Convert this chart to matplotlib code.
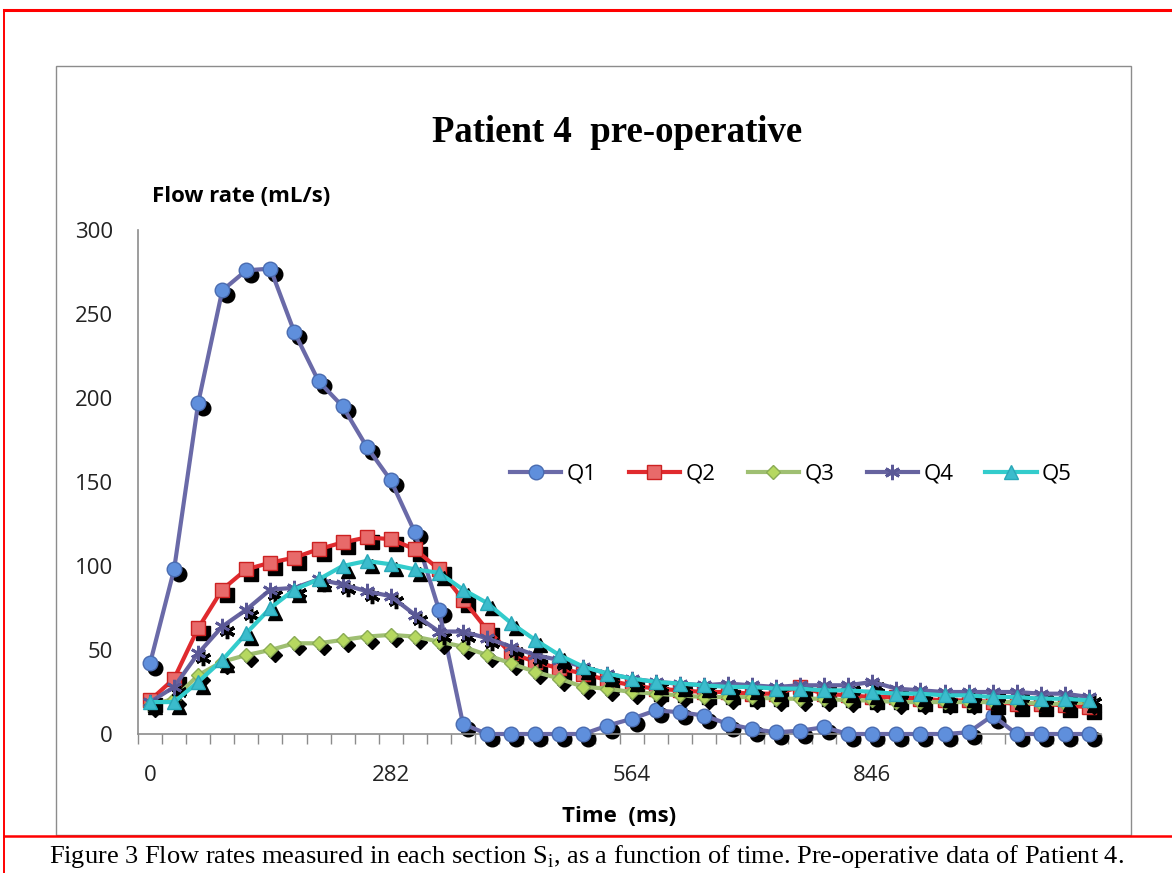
import matplotlib.pyplot as plt
from matplotlib.lines import Line2D
from matplotlib.patches import Rectangle
import matplotlib.transforms as mtransforms

# Zaman ekseni (ms) - 40 örnek
time_ms = [0, 28.2, 56.4, 84.6, 112.8, 141, 169.2, 197.4, 225.6, 253.8,
           282, 310.2, 338.4, 366.6, 394.8, 423, 451.2, 479.4, 507.6, 535.8,
           564, 592.2, 620.4, 648.6, 676.8, 705, 733.2, 761.4, 789.6, 817.8,
           846, 874.2, 902.4, 930.6, 958.8, 987, 1015.2, 1043.4, 1071.6, 1099.8]
tick_times = [0, 282, 564, 846]
tick_labels = ["0", "282", "564", "846"]

# Debiler (mL/s)
q1 = [42, 98, 197, 264, 276, 277, 239, 210, 195, 171,
      151, 120, 74, 6, 0, 0, 0, 0, 0, 5,
      9, 14, 13, 11, 6, 3, 1, 2, 4, 0,
      0, 0, 0, 0, 1, 11, 0, 0, 0, 0]
q2 = [20, 33, 63, 86, 98, 102, 105, 110, 114, 117,
      116, 110, 98, 80, 62, 48, 43, 39, 36, 32,
      29, 27, 26, 25, 25, 24, 24, 28, 24, 23,
      22, 22, 21, 20, 20, 19, 18, 18, 17, 16]
q3 = [17, 21, 35, 43, 47, 50, 54, 54, 56, 58,
      59, 58, 55, 52, 47, 42, 37, 33, 28, 27,
      25, 24, 23, 22, 22, 22, 21, 21, 21, 20,
      20, 19, 19, 19, 19, 19, 19, 18, 18, 19]
q4 = [19, 28, 48, 64, 74, 86, 87, 92, 89, 85,
      82, 71, 61, 61, 57, 52, 47, 44, 40, 36,
      33, 31, 30, 29, 30, 29, 28, 29, 29, 29,
      31, 27, 26, 25, 25, 25, 25, 24, 24, 22]
q5 = [19, 19, 31, 44, 60, 75, 86, 92, 100, 103,
      101, 98, 96, 86, 78, 66, 56, 47, 40, 36,
      33, 31, 30, 29, 28, 28, 27, 27, 26, 26,
      25, 24, 24, 23, 23, 22, 22, 21, 21, 20]

W, H = 1172, 873
fig = plt.figure(figsize=(W / 100, H / 100), dpi=100)


def fx(x):
    return x / W


def fy(y):
    return 1 - y / H


# kırmızı çerçeve ve gri grafik kutusu
fig.add_artist(Line2D([fx(4), 1], [fy(10), fy(10)], color="red", lw=2.2))
fig.add_artist(Line2D([fx(4), fx(4)], [fy(10), 0], color="red", lw=1.4))
fig.add_artist(Line2D([fx(4), 1], [fy(836), fy(836)], color="red", lw=1.8))
fig.add_artist(Rectangle((fx(56), fy(835)), fx(1131) - fx(56), fy(66) - fy(835),
                         fill=False, ec="#8c8c8c", lw=1.0))

ax = fig.add_axes([fx(138), fy(734), fx(1101) - fx(138), fy(230) - fy(734)])

series = [
    ("Q1", q1, "#6a6aa8", "o", "#5f8fdc", "#4a6cb0", 10.5),
    ("Q2", q2, "#e02a2e", "s", "#e86a6a", "#cc2222", 10),
    ("Q3", q3, "#9fbf72", "D", "#b6d860", "#8aab55", 7),
    ("Q4", q4, "#66639f", (6, 2, 0), "#5a5896", "#5a5896", 11),
    ("Q5", q5, "#33cccc", "^", "#3bbccc", "#2aa8b8", 10.5),
]

shadow = mtransforms.ScaledTranslation(5 / 100, -5 / 100, fig.dpi_scale_trans)
handles = []
for i, (name, vals, lc, mk, mf, me, ms) in enumerate(series):
    ax.plot(time_ms, vals, ls="none", marker=mk, ms=ms, color="black",
            mfc="black", mec="black", mew=2.5 if mk == (6, 2, 0) else 1,
            transform=ax.transData + shadow, zorder=2 + 2 * i, clip_on=False)
    h, = ax.plot(time_ms, vals, color=lc, lw=3, marker=mk, ms=ms, mfc=mf,
                 mec=me, mew=2 if mk == (6, 2, 0) else 1, zorder=3 + 2 * i,
                 clip_on=False, label=name)
    handles.append(h)

ax.set_xlim(time_ms[0] - 14.1, time_ms[-1] + 14.1)
ax.set_ylim(0, 300)
ax.set_yticks([0, 50, 100, 150, 200, 250, 300])
ax.tick_params(axis="y", length=0, pad=18, labelsize=16, labelcolor="#222222")
ax.set_xticks(tick_times)
ax.set_xticklabels(tick_labels)
ax.set_xticks([t - 14.1 for t in time_ms] + [time_ms[-1] + 14.1], minor=True)
ax.tick_params(axis="x", which="major", length=0, pad=22, labelsize=16,
               labelcolor="#222222")
ax.tick_params(axis="x", which="minor", length=7, width=1, color="#8c8c8c",
               direction="out")
for lab in ax.get_xticklabels() + ax.get_yticklabels():
    lab.set_fontfamily("Open Sans")
for s in ["top", "right"]:
    ax.spines[s].set_visible(False)
for s in ["left", "bottom"]:
    ax.spines[s].set_color("#8c8c8c")
    ax.spines[s].set_linewidth(1.2)

leg = ax.legend(handles=handles, ncol=5, frameon=False, loc="center left",
                bbox_to_anchor=(fx(510), fy(474)), bbox_transform=fig.transFigure,
                handlelength=2.3, columnspacing=1.45, handletextpad=0.25,
                borderpad=0, borderaxespad=0,
                prop={"family": "Open Sans", "size": 16})

fig.text(fx(617), fy(133), "Patient 4  pre-operative", ha="center", va="center",
         family="Liberation Serif", weight="bold", size=26.5)
fig.text(fx(152), fy(196), "Flow rate (mL/s)", ha="left", va="center",
         family="Open Sans", weight="bold", size=16)
fig.text(fx(619), fy(817), "Time  (ms)", ha="center", va="center",
         family="Open Sans", weight="bold", size=16)

plt.rcParams["mathtext.fontset"] = "custom"
plt.rcParams["mathtext.rm"] = "Liberation Serif"
fig.text(fx(587), fy(857),
         r"Figure 3 Flow rates measured in each section S$_\mathrm{i}$, as a function of time. Pre-operative data of Patient 4.",
         ha="center", va="center", family="Liberation Serif", size=19)

fig.savefig("out.png", dpi=100)
